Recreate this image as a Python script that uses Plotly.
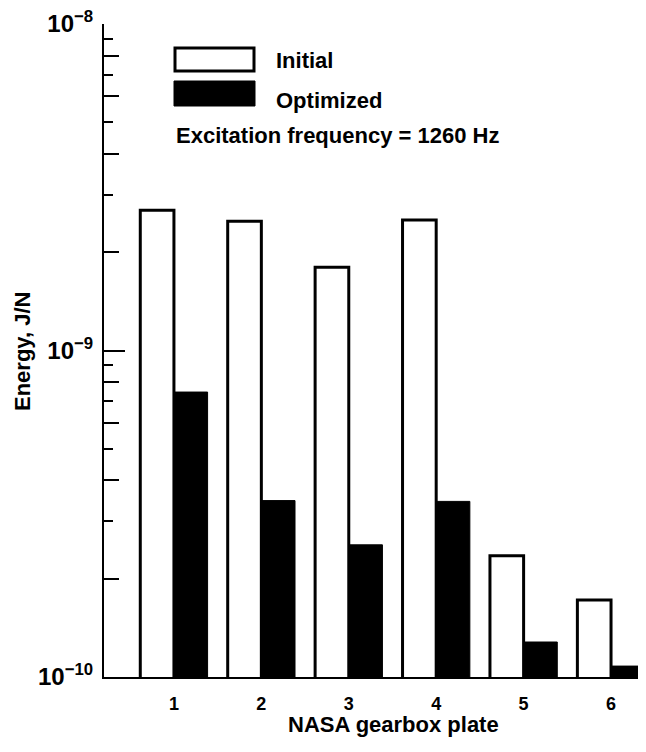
import plotly.graph_objects as go

plates = [1, 2, 3, 4, 5, 6]
plate_labels = ["1", "2", "3", "4", "5", "6"]
initial = [2.69e-9, 2.49e-9, 1.80e-9, 2.51e-9, 2.35e-10, 1.72e-10]
optimized = [7.46e-10, 3.47e-10, 2.54e-10, 3.45e-10, 1.28e-10, 1.08e-10]
series_names = ["Initial", "Optimized"]
note_text = "Excitation frequency = 1260 Hz"
x_title = "NASA gearbox plate"
y_title = "Energy, J/N"
y_major_vals = [1e-10, 1e-9, 1e-8]
y_major_text = ["10<sup>−10</sup>", "10<sup>−9</sup>", "10<sup>−8</sup>"]
y_minor_long = [2e-10, 4e-10, 6e-10, 8e-10, 2e-9, 4e-9, 6e-9, 8e-9]
y_minor_short = [3e-10, 5e-10, 7e-10, 9e-10, 3e-9, 5e-9, 7e-9, 9e-9]

FONT = "Liberation Sans, Arial, Helvetica, sans-serif"
OFF = 8  # default page body margin
W, H = 646 - OFF, 752 - OFF
L, R, T, B = 104 - OFF, 0, 24 - OFF, 75
PW, PH = W - L - R, H - T - B


def px(x):
    return (x - OFF - L) / PW


def py(y):
    return (T + PH - (y - OFF)) / PH


fig = go.Figure()
fig.add_trace(go.Bar(x=plates, y=initial, name=series_names[0],
                     marker=dict(color="white", line=dict(color="black", width=3)),
                     showlegend=False))
fig.add_trace(go.Bar(x=plates, y=optimized, name=series_names[1],
                     marker=dict(color="black", line=dict(color="black", width=1)),
                     showlegend=False))
fig.add_trace(go.Scatter(x=[None], y=[None], yaxis="y2", showlegend=False,
                         hoverinfo="skip"))

fig.update_layout(
    width=W, height=H,
    margin=dict(l=L, r=R, t=T, b=B, pad=0),
    paper_bgcolor="white", plot_bgcolor="white",
    barmode="group", bargap=0.23, bargroupgap=0,
    font=dict(family=FONT, color="black", size=20, weight="bold"),
    xaxis=dict(range=[0.2, 6.4], tickvals=plates, ticktext=plate_labels,
               ticks="", showline=True, linecolor="black", linewidth=2,
               showgrid=False, zeroline=False, ticklabelstandoff=9,
               tickfont=dict(size=18, family=FONT, weight="bold")),
    yaxis=dict(type="log", range=[-10, -8], tickvals=y_major_vals,
               ticktext=y_major_text, ticks="inside", ticklen=21, tickwidth=2,
               tickcolor="black", showline=True, linecolor="black", linewidth=2,
               showgrid=False, zeroline=False, ticklabelstandoff=4,
               ticklabeloverflow="allow",
               tickfont=dict(size=24, family=FONT, weight="bold"),
               minor=dict(tickvals=y_minor_long, ticks="inside", ticklen=15,
                          tickwidth=2, tickcolor="black", showgrid=False)),
    yaxis2=dict(type="log", range=[-10, -8], overlaying="y", side="left",
                anchor="x", tickvals=y_minor_short, ticks="inside", ticklen=9,
                tickwidth=2, tickcolor="black", showticklabels=False,
                showline=False, showgrid=False, zeroline=False),
)

# legend swatches
fig.add_shape(type="rect", xref="paper", yref="paper",
              x0=px(175), x1=px(254), y0=py(71), y1=py(48),
              fillcolor="white", line=dict(color="black", width=3))
fig.add_shape(type="rect", xref="paper", yref="paper",
              x0=px(174), x1=px(255), y0=py(106), y1=py(81),
              fillcolor="black", line=dict(color="black", width=1))

anns = [
    dict(text=series_names[0], x=px(274), y=py(61), xanchor="left", yanchor="middle"),
    dict(text=series_names[1], x=px(274), y=py(100), xanchor="left", yanchor="middle"),
    dict(text=note_text, x=px(174), y=py(136), xanchor="left", yanchor="middle"),
    dict(text=x_title, x=px(393), y=py(724), xanchor="center", yanchor="middle"),
    dict(text=y_title, x=px(22), y=py(352), xanchor="center", yanchor="middle",
         textangle=-90),
]
for a in anns:
    fig.add_annotation(xref="paper", yref="paper", showarrow=False,
                       font=dict(family=FONT, size=22, color="black", weight="bold"),
                       **a)

fig.write_html("out.html")
